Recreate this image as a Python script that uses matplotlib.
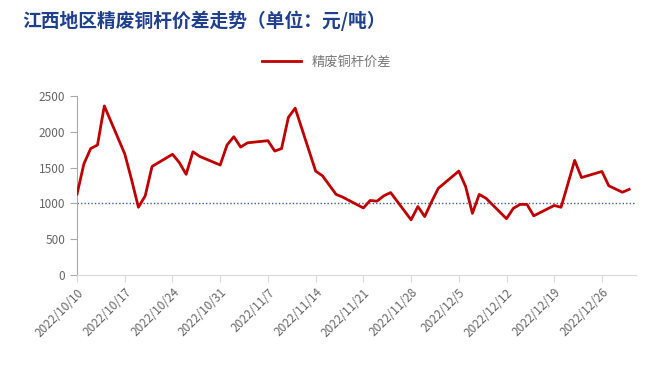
import matplotlib
matplotlib.use('Agg')
import matplotlib.pyplot as plt
import pandas as pd

plt.rcParams['font.family'] = ['Noto Sans CJK SC', 'DejaVu Sans']

dates = pd.to_datetime([
    '2022-10-10', '2022-10-11', '2022-10-12', '2022-10-13', '2022-10-14',
    '2022-10-17', '2022-10-18', '2022-10-19', '2022-10-20', '2022-10-21',
    '2022-10-24', '2022-10-25', '2022-10-26', '2022-10-27', '2022-10-28',
    '2022-10-31', '2022-11-01', '2022-11-02', '2022-11-03', '2022-11-04',
    '2022-11-07', '2022-11-08', '2022-11-09', '2022-11-10', '2022-11-11',
    '2022-11-14', '2022-11-15', '2022-11-16', '2022-11-17', '2022-11-18',
    '2022-11-21', '2022-11-22', '2022-11-23', '2022-11-24', '2022-11-25',
    '2022-11-28', '2022-11-29', '2022-11-30', '2022-12-01', '2022-12-02',
    '2022-12-05', '2022-12-06', '2022-12-07', '2022-12-08', '2022-12-09',
    '2022-12-12', '2022-12-13', '2022-12-14', '2022-12-15', '2022-12-16',
    '2022-12-19', '2022-12-20', '2022-12-21', '2022-12-22', '2022-12-23',
    '2022-12-26', '2022-12-27', '2022-12-28', '2022-12-29', '2022-12-30',
])
spread = [
    1130, 1550, 1765, 1815, 2360,
    1690, 1330, 945, 1105, 1515,
    1685, 1570, 1405, 1720, 1655,
    1535, 1815, 1930, 1785, 1845,
    1875, 1730, 1765, 2200, 2330,
    1450, 1385, 1255, 1125, 1085,
    935, 1040, 1030, 1105, 1150,
    770, 955, 815, 1020, 1210,
    1450, 1235, 860, 1125, 1070,
    785, 930, 985, 985, 825,
    970, 945, 1270, 1600, 1360,
    1445, 1245, 1200, 1155, 1195,
]
baseline = 1000
yticks = [0, 500, 1000, 1500, 2000, 2500]

fig = plt.figure(figsize=(6.53, 3.69), dpi=100)
ax = fig.add_axes([0.118, 0.255, 0.856, 0.485])

ax.plot(dates, spread, color='#c00000', lw=2.0, label='精废铜杆价差', zorder=3)
ax.axhline(baseline, color='#3a5ca8', lw=1.0, ls=(0, (1, 1.5)), zorder=2)

ax.set_ylim(0, 2500)
ax.set_yticks(yticks)
ax.set_xlim(pd.Timestamp('2022-10-10'), pd.Timestamp('2022-12-31'))
ticks = pd.date_range('2022-10-10', '2022-12-26', freq='7D')
ax.set_xticks(ticks)
ax.set_xticklabels([f'{d.year}/{d.month}/{d.day}' for d in ticks],
                   rotation=45, ha='right', rotation_mode='anchor')

for s in ['top', 'right']:
    ax.spines[s].set_visible(False)
ax.spines['left'].set_color('#aaaaaa')
ax.spines['bottom'].set_color('#d9d9d9')
ax.tick_params(axis='y', colors='#aaaaaa', labelcolor='#666666', labelsize=8.5, length=5, width=0.8)
ax.tick_params(axis='x', colors='#d9d9d9', labelcolor='#666666', labelsize=8.5, length=5, width=0.8, pad=3)

fig.text(0.034, 0.945, '江西地区精废铜杆价差走势（单位：元/吨）', fontsize=13.5,
         fontweight='bold', color='#1f3f8f', va='center', ha='left')
fig.legend(loc='center', bbox_to_anchor=(0.5, 0.832), frameon=False,
           fontsize=9.5, handlelength=3, labelcolor='#777777')

fig.savefig('out.png', dpi=100)
